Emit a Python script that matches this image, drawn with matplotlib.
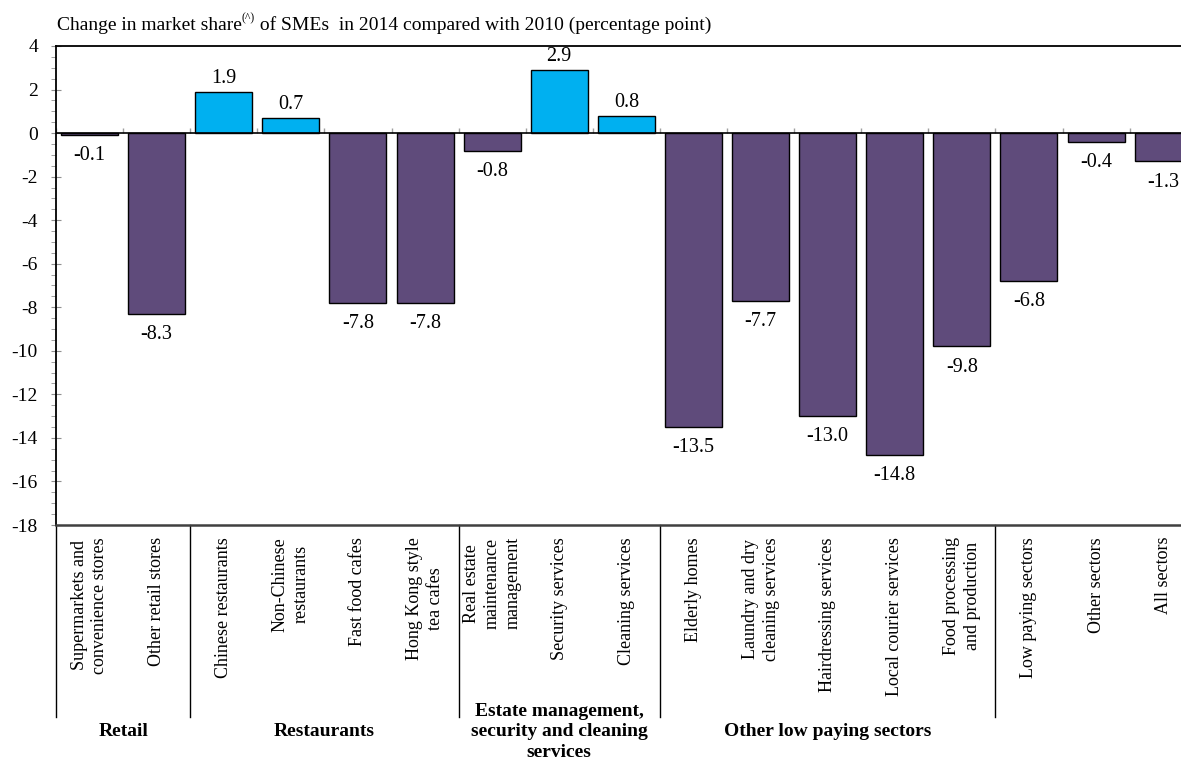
import numpy as np
import matplotlib
matplotlib.use("Agg")
import matplotlib.pyplot as plt
from matplotlib.ticker import MultipleLocator

plt.rcParams["font.family"] = ["Liberation Serif", "DejaVu Serif"]

categories = [
    "Supermarkets and\nconvenience stores",
    "Other retail stores",
    "Chinese restaurants",
    "Non-Chinese\nrestaurants",
    "Fast food cafes",
    "Hong Kong style\ntea cafes",
    "Real estate\nmaintenance\nmanagement",
    "Security services",
    "Cleaning services",
    "Elderly homes",
    "Laundry and dry\ncleaning services",
    "Hairdressing services",
    "Local courier services",
    "Food processing\nand production",
    "Low paying sectors",
    "Other sectors",
    "All sectors",
]
changes = [-0.1, -8.3, 1.9, 0.7, -7.8, -7.8, -0.8, 2.9, 0.8,
           -13.5, -7.7, -13.0, -14.8, -9.8, -6.8, -0.4, -1.3]

group_names = ["Retail", "Restaurants",
               "Estate management,\nsecurity and cleaning\nservices",
               "Other low paying sectors", ""]
group_sizes = [2, 4, 3, 5, 3]

y_ticks = list(range(-18, 5, 2))

POS_COLOR = "#00B0F0"
NEG_COLOR = "#5F4B7B"

W, H, DPI = 1181, 761, 100
fig = plt.figure(figsize=(W / DPI, H / DPI), dpi=DPI)

n = len(categories)
slot_px = 67.1
left_px, top_px, bottom_px = 56, 46, 525
ax = fig.add_axes([left_px / W, (H - bottom_px) / H,
                   n * slot_px / W, (bottom_px - top_px) / H])

x = np.arange(n)
colors = [POS_COLOR if v >= 0 else NEG_COLOR for v in changes]
ax.bar(x, changes, width=0.85, color=colors, edgecolor="black",
       linewidth=1.0, zorder=3)

for xi, v in zip(x, changes):
    if v >= 0:
        ax.annotate(f"{v:.1f}", (xi, v), xytext=(0, 2.5), textcoords="offset points",
                    ha="center", va="bottom", fontsize=14.5)
    else:
        ax.annotate(f"{v:.1f}", (xi, v), xytext=(0, -8), textcoords="offset points",
                    ha="center", va="top", fontsize=14.5)

ax.set_xlim(-0.5, n - 0.5)
ax.set_ylim(y_ticks[0], y_ticks[-1])

# zero line with small category marks
ax.axhline(0, color="black", linewidth=1.2, zorder=4)
boundaries = np.arange(n + 1) - 0.5
ax.vlines(boundaries, 0, 0.23, color="#a0a0a0", linewidth=1.0, zorder=2)

# y axis
ax.set_yticks(y_ticks)
ax.set_yticklabels([str(t) for t in y_ticks])
ax.yaxis.set_minor_locator(MultipleLocator(0.5))
ax.tick_params(axis="y", which="major", direction="inout", length=7,
               color="#909090", labelsize=14, pad=9.5)
ax.tick_params(axis="y", which="minor", direction="out", length=3.5,
               color="#909090")
ax.set_xticks([])

for side in ["left", "top", "right"]:
    ax.spines[side].set_color("black")
    ax.spines[side].set_linewidth(1.3)
ax.spines["bottom"].set_color("#404040")
ax.spines["bottom"].set_linewidth(1.8)

axh = bottom_px - top_px
xtr = ax.get_xaxis_transform()

# category labels
for xi, lab in zip(x, categories):
    ax.text(xi, -12 / axh, lab, transform=xtr, rotation=90, ha="center",
            va="top", multialignment="center", fontsize=13, linespacing=1.3)

# group separators and group names
edges = np.concatenate([[0], np.cumsum(group_sizes)]) - 0.5
for e in edges[:-1]:
    ax.plot([e, e], [0, -192 / axh], transform=xtr, color="black",
            linewidth=1.0, clip_on=False)
for i, name in enumerate(group_names):
    if not name:
        continue
    cx = (edges[i] + edges[i + 1]) / 2
    ax.text(cx, -207 / axh, name, transform=xtr, ha="center", va="center",
            fontsize=14, fontweight="bold", linespacing=1.27)

# title with superscript marker
t1 = fig.text(57 / W, 1 - 33.5 / H, "Change in market share", fontsize=14,
              ha="left", va="bottom")
t2 = ax.annotate("(^)", xy=(1, 0.55), xycoords=t1, ha="left", va="bottom",
                 fontsize=8.5, annotation_clip=False)
ax.annotate(" of SMEs  in 2014 compared with 2010 (percentage point)",
            xy=(1, 0), xycoords=(t2, t1), ha="left", va="bottom", fontsize=14,
            annotation_clip=False)

fig.savefig("out.png", dpi=DPI)
